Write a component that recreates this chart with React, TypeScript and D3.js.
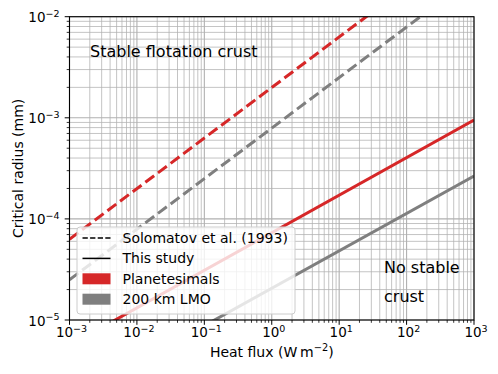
import React, { useRef, useEffect } from "react";
import * as d3 from "d3";

// heat flux range (W m^-2) at which each line is evaluated
const fluxEnds = [1e-3, 1e3];
// critical radius (mm) at the two flux ends
const solomatovPlanetesimals = [6.3e-5, 6.3e-2];
const solomatovLMO = [2.5e-5, 2.5e-2];
const studyPlanetesimals = [5.6e-6, 9.5e-4];
const studyLMO = [1.6e-6, 2.65e-4];

const xTickExps = [-3, -2, -1, 0, 1, 2, 3];
const yTickExps = [-5, -4, -3, -2];

const legendItems = [
  { label: "Solomatov et al. (1993)", kind: "dash" },
  { label: "This study", kind: "line" },
  { label: "Planetesimals", kind: "patch", color: "#d62728" },
  { label: "200 km LMO", kind: "patch", color: "#7f7f7f" },
];

const RED = "#d62728";
const GRAY = "#7f7f7f";
const FONT = "DejaVu Sans, sans-serif";

const App = () => {
  const svgRef = useRef<SVGSVGElement>(null);

  useEffect(() => {
    const svg = d3.select(svgRef.current);
    svg.selectAll("*").remove();

    const width = 498;
    const height = 374;
    const margin = { top: 16.7, right: 24, bottom: 54, left: 69.5 };

    const x = d3.scaleLog().domain([1e-3, 1e3]).range([margin.left, width - margin.right]);
    const y = d3.scaleLog().domain([1e-5, 1e-2]).range([height - margin.bottom, margin.top]);

    const minorX: number[] = [];
    for (let e = -3; e < 3; e++) for (let k = 2; k < 10; k++) minorX.push(k * Math.pow(10, e));
    const minorY: number[] = [];
    for (let e = -5; e < -2; e++) for (let k = 2; k < 10; k++) minorY.push(k * Math.pow(10, e));
    const majorX = xTickExps.map((e) => Math.pow(10, e));
    const majorY = yTickExps.map((e) => Math.pow(10, e));

    // grid
    const grid = svg.append("g");
    grid.selectAll(".gxm").data(minorX).join("line")
      .attr("x1", (d) => x(d)).attr("x2", (d) => x(d))
      .attr("y1", y(1e-5)).attr("y2", y(1e-2))
      .attr("stroke", "#b0b0b0").attr("stroke-opacity", 0.75).attr("stroke-width", 1);
    grid.selectAll(".gym").data(minorY).join("line")
      .attr("y1", (d) => y(d)).attr("y2", (d) => y(d))
      .attr("x1", x(1e-3)).attr("x2", x(1e3))
      .attr("stroke", "#b0b0b0").attr("stroke-opacity", 0.75).attr("stroke-width", 1);
    grid.selectAll(".gxM").data(majorX).join("line")
      .attr("x1", (d) => x(d)).attr("x2", (d) => x(d))
      .attr("y1", y(1e-5)).attr("y2", y(1e-2))
      .attr("stroke", "#b0b0b0").attr("stroke-width", 1.1);
    grid.selectAll(".gyM").data(majorY).join("line")
      .attr("y1", (d) => y(d)).attr("y2", (d) => y(d))
      .attr("x1", x(1e-3)).attr("x2", x(1e3))
      .attr("stroke", "#b0b0b0").attr("stroke-width", 1.1);

    // clip for data lines
    svg.append("defs").append("clipPath").attr("id", "plot-clip")
      .append("rect")
      .attr("x", x(1e-3)).attr("y", y(1e-2))
      .attr("width", x(1e3) - x(1e-3)).attr("height", y(1e-5) - y(1e-2));

    const line = d3.line<[number, number]>().x((d) => x(d[0])).y((d) => y(d[1]));
    const series = [
      { vals: solomatovPlanetesimals, color: RED, dash: "11,4.8" },
      { vals: solomatovLMO, color: GRAY, dash: "11,4.8" },
      { vals: studyPlanetesimals, color: RED, dash: null },
      { vals: studyLMO, color: GRAY, dash: null },
    ];
    const lines = svg.append("g").attr("clip-path", "url(#plot-clip)");
    series.forEach((s) => {
      lines.append("path")
        .datum(fluxEnds.map((f, i) => [f, s.vals[i]] as [number, number]))
        .attr("d", line)
        .attr("fill", "none")
        .attr("stroke", s.color)
        .attr("stroke-width", 3)
        .attr("stroke-dasharray", s.dash);
    });

    // ticks
    const ticks = svg.append("g").attr("stroke", "#000").attr("stroke-width", 1);
    const yb = y(1e-5);
    const xl = x(1e-3);
    majorX.forEach((d) => ticks.append("line").attr("x1", x(d)).attr("x2", x(d)).attr("y1", yb).attr("y2", yb + 4.8));
    minorX.forEach((d) => ticks.append("line").attr("x1", x(d)).attr("x2", x(d)).attr("y1", yb).attr("y2", yb + 2.8).attr("stroke-width", 0.8));
    majorY.forEach((d) => ticks.append("line").attr("y1", y(d)).attr("y2", y(d)).attr("x1", xl).attr("x2", xl - 4.8));
    minorY.forEach((d) => ticks.append("line").attr("y1", y(d)).attr("y2", y(d)).attr("x1", xl).attr("x2", xl - 2.8).attr("stroke-width", 0.8));

    // tick labels with superscripts
    const labels = svg.append("g").attr("font-family", FONT).attr("fill", "#000");
    xTickExps.forEach((e) => {
      const t = labels.append("text")
        .attr("x", x(Math.pow(10, e)) + 2)
        .attr("y", 337.3)
        .attr("text-anchor", "middle")
        .attr("font-size", 13.5);
      t.append("tspan").text("10");
      t.append("tspan").attr("dy", -5.5).attr("font-size", 9.5).text(e < 0 ? "\u2212" + -e : String(e));
    });
    yTickExps.forEach((e) => {
      const t = labels.append("text")
        .attr("x", 59.5)
        .attr("y", y(Math.pow(10, e)) + 5.5)
        .attr("text-anchor", "end")
        .attr("font-size", 13.5);
      t.append("tspan").text("10");
      t.append("tspan").attr("dy", -5.5).attr("font-size", 9.5).text("\u2212" + -e);
    });

    // axis labels
    const xLabel = labels.append("text")
      .attr("x", (x(1e-3) + x(1e3)) / 2)
      .attr("y", 356.7)
      .attr("text-anchor", "middle")
      .attr("font-size", 14);
    xLabel.append("tspan").text("Heat flux (W\u2009m");
    xLabel.append("tspan").attr("dy", -5.5).attr("font-size", 9.8).text("\u22122");
    xLabel.append("tspan").attr("dy", 5.5).text(")");

    labels.append("text")
      .attr("transform", `translate(23,${(y(1e-5) + y(1e-2)) / 2}) rotate(-90)`)
      .attr("text-anchor", "middle")
      .attr("font-size", 14)
      .text("Critical radius (mm)");

    // spines
    svg.append("rect")
      .attr("x", x(1e-3)).attr("y", y(1e-2))
      .attr("width", x(1e3) - x(1e-3)).attr("height", y(1e-5) - y(1e-2))
      .attr("fill", "none").attr("stroke", "#000").attr("stroke-width", 1.1);

    // annotations
    labels.append("text").attr("x", 90).attr("y", 57).attr("font-size", 16).text("Stable flotation crust");
    labels.append("text").attr("x", 384).attr("y", 273).attr("font-size", 16).text("No stable");
    labels.append("text").attr("x", 384).attr("y", 302).attr("font-size", 16).text("crust");

    // legend
    const lg = svg.append("g").attr("transform", "translate(77,227)");
    lg.append("rect")
      .attr("width", 218).attr("height", 87).attr("rx", 3)
      .attr("fill", "#fff").attr("fill-opacity", 0.8)
      .attr("stroke", "#cccccc").attr("stroke-width", 1);
    legendItems.forEach((item, i) => {
      const cy = 11 + i * 20.4;
      if (item.kind === "patch") {
        lg.append("rect").attr("x", 5.5).attr("y", cy - 5.5).attr("width", 28).attr("height", 11).attr("fill", item.color!);
      } else {
        lg.append("line")
          .attr("x1", 5.5).attr("x2", 33.5).attr("y1", cy).attr("y2", cy)
          .attr("stroke", "#000").attr("stroke-width", 1.5)
          .attr("stroke-dasharray", item.kind === "dash" ? "5.3,2.3" : null);
      }
      lg.append("text")
        .attr("x", 45.5).attr("y", cy + 5)
        .attr("font-family", FONT).attr("font-size", 14)
        .text(item.label);
    });
  }, []);

  return <svg ref={svgRef} width={498} height={374} style={{ display: "block", margin: "-8px" }}></svg>;
};

export default App;
